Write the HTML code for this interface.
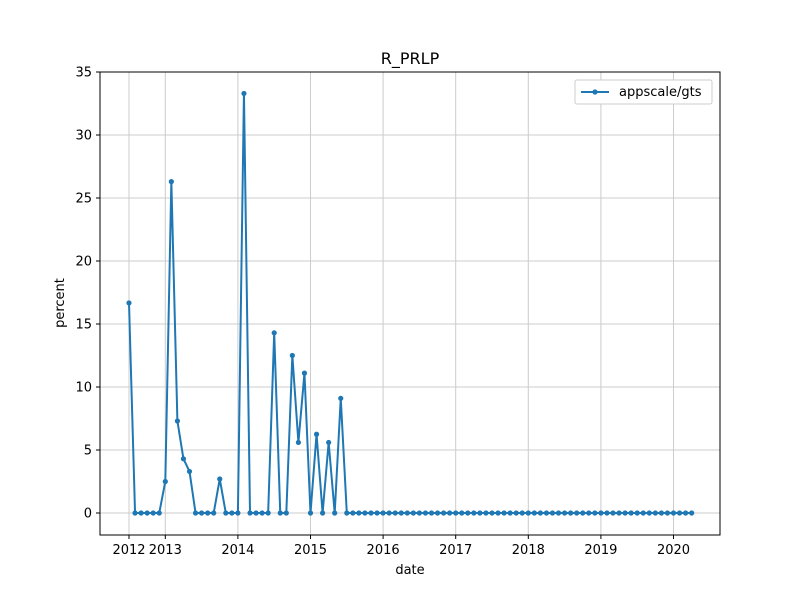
<!DOCTYPE html>
<html><head><meta charset="utf-8"><style>
body{margin:0;background:#fff;}
svg text{font-family:"DejaVu Sans","Liberation Sans",sans-serif;fill:#000;}
</style></head><body>
<svg id="chart" width="800" height="600" xmlns="http://www.w3.org/2000/svg">
<rect width="800" height="600" fill="#fff"/>
<g id="grid"></g>
<g id="series"></g>
<rect x="100" y="72" width="620" height="463" fill="none" stroke="#000" stroke-width="1"/>
<g id="axes"></g>
<text x="410" y="64" font-size="16" text-anchor="middle">R_PRLP</text>
<text x="410" y="574" font-size="13" text-anchor="middle">date</text>
<text x="64" y="303" font-size="13" text-anchor="middle" transform="rotate(-90 64 303)">percent</text>
<g>
<rect x="575" y="80" width="137" height="24" fill="#fff" stroke="#ccc" rx="2"/>
<line x1="581" y1="92" x2="609" y2="92" stroke="#1f77b4" stroke-width="2"/>
<circle cx="595" cy="92" r="2.6" fill="#1f77b4"/>
<text x="619" y="96" font-size="13">appscale/gts</text>
</g>
</svg>
<script>
const values=[16.67,0,0,0,0,0,2.5,26.3,7.3,4.3,3.3,0,0,0,0,2.7,0,0,0,33.3,0,0,0,0,14.3,0,0,12.5,5.6,11.1,0,6.25,0,5.6,0,9.1];
while(values.length<94) values.push(0);
const xTickIdx=[0,6,18,30,42,54,66,78,90];
const xTickLabels=["2012","2013","2014","2015","2016","2017","2018","2019","2020"];
const yTicks=[0,5,10,15,20,25,30,35];
const ns="http://www.w3.org/2000/svg";
function xs(i){return 165.3+(i-6)*6.05;}
function ys(v){return 513-v*12.6;}
function mk(t,a,p){const e=document.createElementNS(ns,t);for(const k in a)e.setAttribute(k,a[k]);p.appendChild(e);return e;}
const grid=document.getElementById('grid'),axes=document.getElementById('axes'),ser=document.getElementById('series');
xTickIdx.forEach((d,k)=>{const x=xs(d);
 const g=mk('line',{x1:x,x2:x,y1:72,y2:535,stroke:'#cccccc','stroke-width':1},grid);
 
 
 mk('line',{x1:x,x2:x,y1:535,y2:539,stroke:'#000'},axes);
 const t=mk('text',{x:x,y:554,'font-size':13,'text-anchor':'middle'},axes);t.textContent=xTickLabels[k];
 
 
});
yTicks.forEach(v=>{const y=ys(v);
 const g=mk('line',{x1:100,x2:720,y1:y,y2:y,stroke:'#cccccc','stroke-width':1},grid);
 
 
 mk('line',{x1:96,x2:100,y1:y,y2:y,stroke:'#000'},axes);
 const t=mk('text',{x:92,y:y+4.5,'font-size':13,'text-anchor':'end'},axes);t.textContent=v;
 
 
});
const pts=values.map((v,i)=>xs(i)+','+ys(v)).join(' ');
const pl=mk('polyline',{points:pts,fill:'none',stroke:'#1f77b4','stroke-width':2,'stroke-linejoin':'round'},ser);


values.forEach((v,i)=>{const c=mk('circle',{cx:xs(i),cy:ys(v),r:2.6,fill:'#1f77b4'},ser);
 
 
});
</script>
</body></html>
